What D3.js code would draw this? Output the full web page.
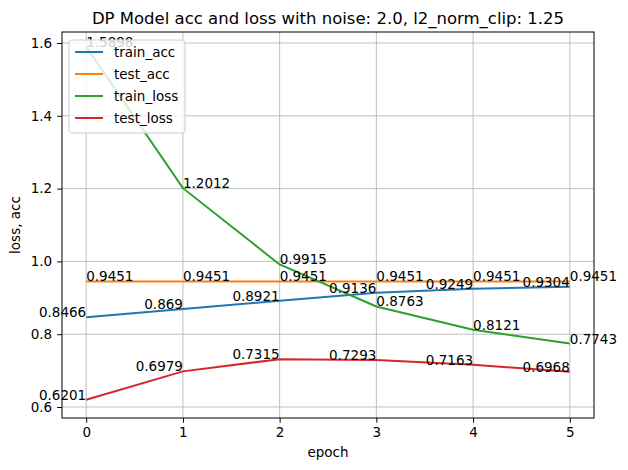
<!DOCTYPE html>
<html><head><meta charset="utf-8">
<script src="https://cdn.jsdelivr.net/npm/d3@7"></script>
<style>body{margin:0;background:#fff}text{font-family:"DejaVu Sans",sans-serif}</style>
</head><body>
<svg width="628" height="470"></svg>
<script>
const epochs = [0, 1, 2, 3, 4, 5];
const trainAcc = [0.8466, 0.869, 0.8921, 0.9136, 0.9249, 0.9304];
const testAcc = [0.9451, 0.9451, 0.9451, 0.9451, 0.9451, 0.9451];
const trainLoss = [1.5898, 1.2012, 0.9915, 0.8763, 0.8121, 0.7743];
const testLoss = [0.6201, 0.6979, 0.7315, 0.7293, 0.7163, 0.6968];
const yTicks = [0.6, 0.8, 1.0, 1.2, 1.4, 1.6];

const series = [
  {name: "train_acc", values: trainAcc, color: "#1f77b4", anchor: "end"},
  {name: "test_acc", values: testAcc, color: "#ff7f0e", anchor: "start"},
  {name: "train_loss", values: trainLoss, color: "#2ca02c", anchor: "start"},
  {name: "test_loss", values: testLoss, color: "#d62728", anchor: "end"}
];

const svg = d3.select("svg");
const L = 62, R = 594, T = 32, B = 418;
const fs = 13.5;

const x = d3.scaleLinear().domain([-0.25, 5.25]).range([L, R]);
const y = d3.scaleLinear().domain([0.5698, 1.6302]).range([B, T]);

// grid
svg.append("g").selectAll("line").data(epochs).join("line")
  .attr("x1", d => x(d)).attr("x2", d => x(d)).attr("y1", T).attr("y2", B)
  .attr("stroke", "#b0b0b0").attr("stroke-width", 0.8);
svg.append("g").selectAll("line").data(yTicks).join("line")
  .attr("y1", d => y(d)).attr("y2", d => y(d)).attr("x1", L).attr("x2", R)
  .attr("stroke", "#b0b0b0").attr("stroke-width", 0.8);

const line = d3.line().x((d, i) => x(epochs[i])).y(d => y(d));

series.forEach(s => {
  svg.append("path").datum(s.values).attr("d", line)
    .attr("fill", "none").attr("stroke", s.color).attr("stroke-width", 2);
});
series.forEach(s => {
  svg.append("g").selectAll("text").data(s.values).join("text")
    .attr("x", (d, i) => x(epochs[i])).attr("y", d => y(d))
    .attr("text-anchor", s.anchor).attr("font-size", fs).attr("fill", "#000")
    .text(d => d);
});

// axes
const xAxis = svg.append("g").attr("transform", `translate(0,${B})`)
  .call(d3.axisBottom(x).tickValues(epochs).tickSize(4.8).tickPadding(5).tickFormat(d3.format("d")));
const yAxis = svg.append("g").attr("transform", `translate(${L},0)`)
  .call(d3.axisLeft(y).tickValues(yTicks).tickSize(4.8).tickPadding(5).tickFormat(d3.format(".1f")));
[xAxis, yAxis].forEach(a => {
  a.select(".domain").remove();
  a.selectAll("text").attr("font-size", fs).attr("font-family", "DejaVu Sans").attr("fill", "#000");
  a.selectAll("line").attr("stroke", "#000");
});
svg.append("rect").attr("x", L).attr("y", T).attr("width", R - L).attr("height", B - T)
  .attr("fill", "none").attr("stroke", "#000").attr("stroke-width", 1);

// legend
const lg = svg.append("g").attr("transform", "translate(69,40)");
lg.append("rect").attr("width", 116).attr("height", 93).attr("rx", 3)
  .attr("fill", "#fff").attr("fill-opacity", 0.8).attr("stroke", "#ccc");
series.forEach((s, i) => {
  const yy = 12 + i * 22;
  lg.append("line").attr("x1", 6).attr("x2", 34).attr("y1", yy).attr("y2", yy)
    .attr("stroke", s.color).attr("stroke-width", 2);
  lg.append("text").attr("x", 45).attr("y", yy + 5).attr("font-size", fs).text(s.name);
});

svg.append("text").attr("x", (L + R) / 2).attr("y", 24).attr("text-anchor", "middle")
  .attr("font-size", 16.5).text("DP Model acc and loss with noise: 2.0, l2_norm_clip: 1.25");
svg.append("text").attr("x", (L + R) / 2).attr("y", 457).attr("text-anchor", "middle")
  .attr("font-size", fs).text("epoch");
svg.append("text").attr("transform", `translate(20,${(T + B) / 2}) rotate(-90)`)
  .attr("text-anchor", "middle").attr("font-size", fs).text("loss, acc");
</script>
</body></html>
